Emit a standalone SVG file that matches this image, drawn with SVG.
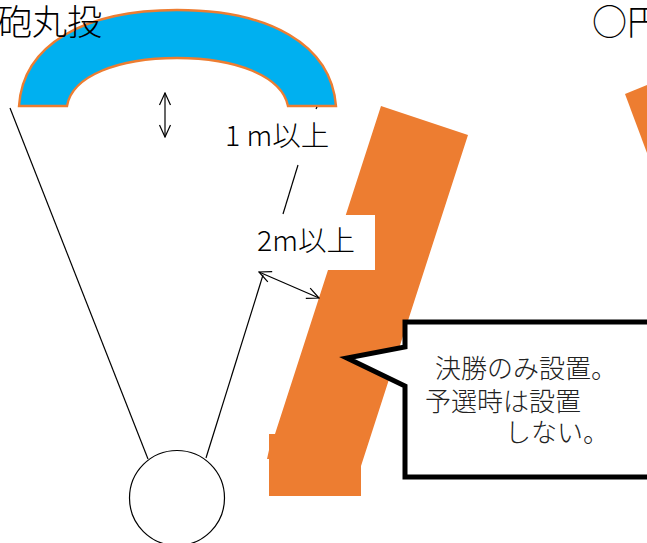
<svg xmlns="http://www.w3.org/2000/svg" width="647" height="543" viewBox="0 0 647 543">
<style>
text{font-family:"Noto Sans CJK JP","Liberation Sans",sans-serif;fill:#000}
.t{font-size:35px;font-weight:300}
.l{font-size:28.5px;font-weight:300}
.s{font-size:26px;fill:#222;font-weight:300}
.o{fill:#ed7d31}
.k{fill:none;stroke:#000;stroke-width:1.2}
</style>
<defs>
<marker id="a" viewBox="0 0 14 14" refX="13" refY="7" markerWidth="14" markerHeight="14" markerUnits="userSpaceOnUse" orient="auto-start-reverse"><path d="M1 1.5L13 7L1 12.5" fill="none" stroke="#000" stroke-width="1.2"/></marker>
</defs>
<rect width="647" height="543" fill="#fff"/>
<g id="arc"><path d="M19 106C23 44 85 10 177 10C269 10 331 44 336 106H288C282 76 236 58 177 58C118 58 72 76 67 106Z" fill="#00b0f0" stroke="#ed7d31" stroke-width="2.4"/></g>
<g id="title-left"><text class="t" x="-3" y="35">砲丸投</text></g>
<g id="title-right"><text class="t" x="592" y="35">○円</text></g>
<g id="track">
<path class="o" d="M381 106L468 135L361 466V496H269V459H267L269 450V434H275Z"/>
<path class="o" d="M625 94L647 85V153Z"/>
</g>
<g id="connectors">
<path class="k" d="M10 108L148 459"/>
<path class="k" d="M206 458L263 275"/>
<path class="k" d="M259 272L319 298" marker-start="url(#a)" marker-end="url(#a)"/>
<path class="k" d="M165 93V137" marker-start="url(#a)" marker-end="url(#a)"/>
<path class="k" d="M298 165L283 214"/>
<path class="k" d="M317 107L316 109"/>
</g>
<g id="label-1m"><text class="l" x="225" y="146">1 m以上</text></g>
<g id="label-2m"><rect x="247" y="215" width="128" height="55" fill="#fff"/><text class="l" x="257" y="251">2m以上</text></g>
<g id="ring"><circle cx="177" cy="498" r="47.5" fill="#fff" stroke="#000" stroke-width="1.2"/></g>
<g id="callout">
<path d="M405 322H660V477H405V386L347 358L405 347Z" fill="#fff" stroke="#000" stroke-width="5"/>
<text class="s" x="435" y="378">決勝のみ設置。</text>
<text class="s" x="425" y="411">予選時は設置</text>
<text class="s" x="505" y="442">しない。</text>
</g>
</svg>
